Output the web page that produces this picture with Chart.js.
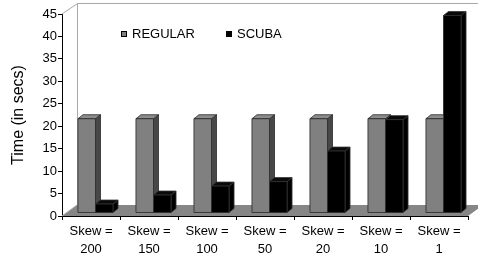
<!DOCTYPE html>
<html>
<head>
<meta charset="utf-8">
<script src="https://cdn.jsdelivr.net/npm/chart.js@4/dist/chart.umd.min.js"></script>
<style>
html,body{margin:0;padding:0;background:#fff;}
#c{display:block;}
</style>
</head>
<body>
<canvas id="c" width="478" height="259"></canvas>
<script>
const categories = [["Skew =","200"],["Skew =","150"],["Skew =","100"],["Skew =","50"],["Skew =","20"],["Skew =","10"],["Skew =","1"]];
const regular = [21, 21, 21, 21, 21, 21, 21];
const scuba = [2, 4, 6, 7, 13.8, 20.8, 44];
const seriesNames = ["REGULAR", "SCUBA"];
const yTicks = [0, 5, 10, 15, 20, 25, 30, 35, 40, 45];

const FONT = "'Liberation Sans', Arial, sans-serif";
const BAR_DX = 5, BAR_DY = 4;     // bar depth
const WALL_DX = 15, WALL_DY = 11; // wall depth
const SHIFT_X = 4.5, SHIFT_Y = -3;

const faces = [
  {front:'#808080', side:'#474747', top:'#8c8c8c', edge:'#2a2a2a'},
  {front:'#000000', side:'#000000', top:'#0a0a0a', edge:'#333333'}
];

const threeD = {
  id: 'threeD',
  beforeDatasetsDraw(chart) {
    const {ctx, chartArea: {left, top, right, bottom}} = chart;
    ctx.save();
    // floor
    ctx.fillStyle = '#868686';
    ctx.beginPath();
    ctx.moveTo(left, bottom);
    ctx.lineTo(left + WALL_DX, bottom - WALL_DY);
    ctx.lineTo(right + WALL_DX, bottom - WALL_DY);
    ctx.lineTo(right, bottom);
    ctx.closePath();
    ctx.fill();
    // walls
    ctx.strokeStyle = '#a8a8a8';
    ctx.lineWidth = 1;
    ctx.beginPath();
    ctx.moveTo(left, top);
    ctx.lineTo(left + WALL_DX + 0.5, top - WALL_DY + 0.5);
    ctx.lineTo(chart.width, top - WALL_DY + 0.5);
    ctx.moveTo(left + WALL_DX + 0.5, top - WALL_DY + 0.5);
    ctx.lineTo(left + WALL_DX + 0.5, bottom - WALL_DY);
    ctx.moveTo(left, bottom);
    ctx.lineTo(left + WALL_DX, bottom - WALL_DY);
    ctx.stroke();
    ctx.restore();
    ctx.save();
    ctx.translate(SHIFT_X, SHIFT_Y);
  },
  afterDatasetsDraw(chart) {
    const ctx = chart.ctx;
    const n = chart.data.labels.length;
    const metas = chart.data.datasets.map((d, i) => chart.getDatasetMeta(i));
    for (let i = 0; i < n; i++) {
      metas.forEach((m, di) => {
        const el = m.data[i];
        if (!el) return;
        const {x, y, base, width} = el.getProps(['x', 'y', 'base', 'width'], true);
        const l = x - width / 2, r = x + width / 2;
        const f = faces[di];
        ctx.lineWidth = 0.8;
        ctx.strokeStyle = f.edge;
        // side
        ctx.fillStyle = f.side;
        ctx.beginPath();
        ctx.moveTo(r, y); ctx.lineTo(r + BAR_DX, y - BAR_DY);
        ctx.lineTo(r + BAR_DX, base - BAR_DY); ctx.lineTo(r, base);
        ctx.closePath(); ctx.fill(); ctx.stroke();
        // top
        ctx.fillStyle = f.top;
        ctx.beginPath();
        ctx.moveTo(l, y); ctx.lineTo(l + BAR_DX, y - BAR_DY);
        ctx.lineTo(r + BAR_DX, y - BAR_DY); ctx.lineTo(r, y);
        ctx.closePath(); ctx.fill(); ctx.stroke();
        // front
        ctx.fillStyle = f.front;
        ctx.beginPath();
        ctx.rect(l, y, width, base - y);
        ctx.fill(); ctx.stroke();
      });
    }
    ctx.restore();
  },
  afterDraw(chart) {
    const {ctx, chartArea: {left, top}} = chart;
    ctx.save();
    ctx.font = '13px ' + FONT;
    ctx.textBaseline = 'middle';
    ctx.textAlign = 'left';
    const yc = top + 20;
    chart.data.datasets.forEach((ds, i) => {
      const x0 = left + 59 + i * 105;
      ctx.fillStyle = faces[i].front;
      ctx.fillRect(x0, yc - 3, 6, 6);
      ctx.strokeStyle = '#000';
      ctx.lineWidth = 1;
      ctx.strokeRect(x0 + 0.5, yc - 2.5, 5, 5);
      ctx.fillStyle = '#000';
      ctx.fillText(ds.label, x0 + 11, yc + 0.5);
    });
    ctx.restore();
  }
};

new Chart(document.getElementById('c'), {
  type: 'bar',
  data: {
    labels: categories,
    datasets: [
      {label: seriesNames[0], data: regular, backgroundColor: faces[0].front},
      {label: seriesNames[1], data: scuba, backgroundColor: faces[1].front}
    ]
  },
  plugins: [threeD],
  options: {
    responsive: false,
    animation: false,
    devicePixelRatio: 1,
    layout: {padding: {top: 14, right: 10, left: 0, bottom: 0}},
    datasets: {bar: {categoryPercentage: 0.605, barPercentage: 1.0}},
    plugins: {legend: {display: false}, tooltip: {enabled: false}},
    scales: {
      x: {
        afterFit(s) { s.height = 43; },
        grid: {display: true, drawOnChartArea: false, drawTicks: true, tickLength: 4, color: '#000', offset: true},
        border: {display: true, color: '#000'},
        ticks: {color: '#000', padding: 2, font: {family: FONT, size: 13, lineHeight: 1.4}, maxRotation: 0, autoSkip: false}
      },
      y: {
        min: 0, max: 45,
        afterFit(s) { s.width = 62; },
        afterBuildTicks(s) { s.ticks = yTicks.map(v => ({value: v})); },
        grid: {display: true, drawOnChartArea: false, drawTicks: true, tickLength: 4, color: '#000'},
        border: {display: true, color: '#000'},
        ticks: {color: '#000', padding: 1, font: {family: FONT, size: 13}},
        title: {display: true, text: 'Time (in secs)', color: '#000', padding: {top: 9, bottom: 0}, font: {family: FONT, size: 16, lineHeight: 1.2}}
      }
    }
  }
});
</script>
</body>
</html>
